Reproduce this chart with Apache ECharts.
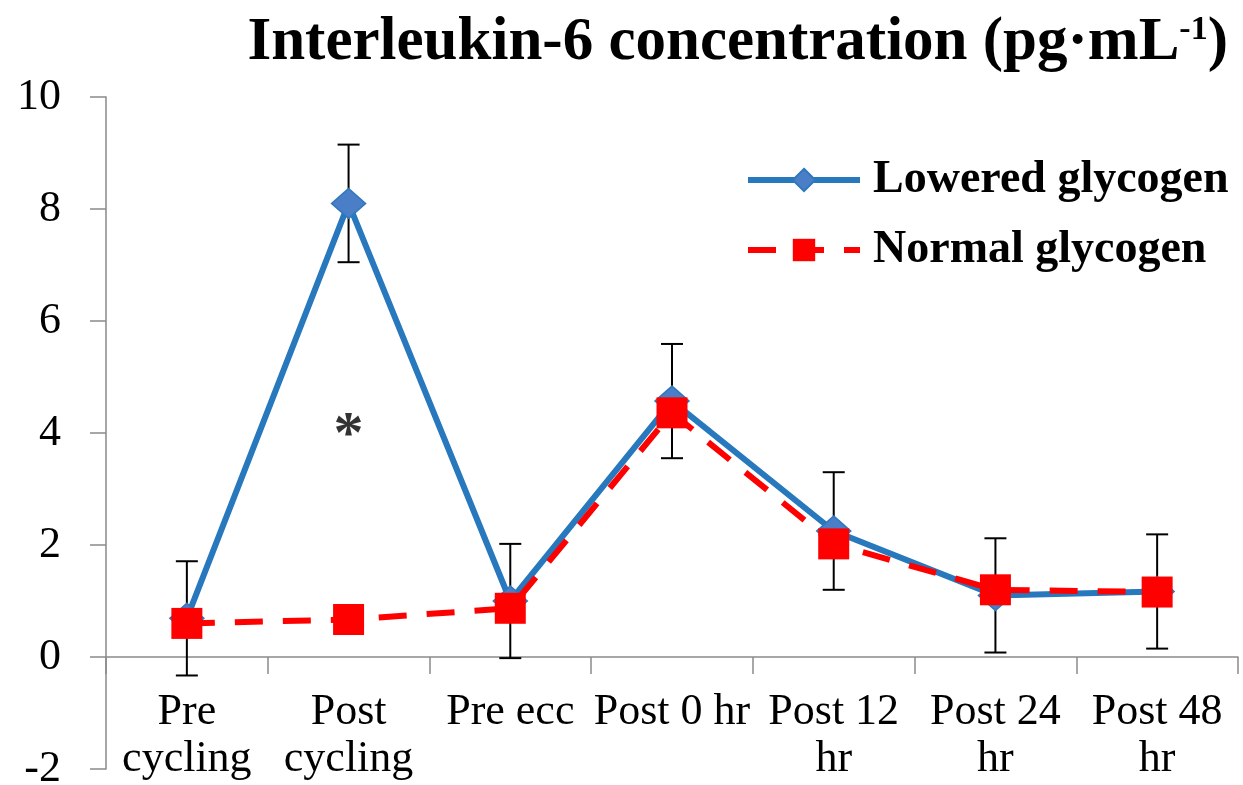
<!DOCTYPE html>
<html>
<head>
<meta charset="utf-8">
<script src="https://cdn.jsdelivr.net/npm/echarts@6/dist/echarts.min.js"></script>
<style>
  html, body { margin: 0; padding: 0; background: #ffffff; }
  #chart { width: 1243px; height: 785px; }
</style>
</head>
<body>
<div id="chart"></div>
<script>
const categories = ['Pre\ncycling', 'Post\ncycling', 'Pre ecc', 'Post 0 hr', 'Post 12\nhr', 'Post 24\nhr', 'Post 48\nhr'];
const loweredGlycogen = [0.69, 8.1, 1.0, 4.57, 2.25, 1.1, 1.17];
const loweredError = [1.02, 1.05, 1.02, 1.02, 1.05, 1.02, 1.02];
const normalGlycogen = [0.6, 0.67, 0.87, 4.36, 2.02, 1.2, 1.16];
const significance = [{ index: 1, value: 4.15, mark: '*' }];
const yTicks = { min: -2, max: 10, interval: 2 };

const FONT = 'Liberation Serif';
const chart = echarts.init(document.getElementById('chart'), null, { renderer: 'canvas' });

const errorData = loweredGlycogen.map((v, i) => [i, v - loweredError[i], v + loweredError[i]]);

chart.setOption({
  backgroundColor: '#ffffff',
  animation: false,
  title: {
    text: '{a|Interleukin-6 concentration (pg·mL}{s|-1}{a|)}',
    right: 10,
    top: 8,
    textStyle: {
      rich: {
        a: { fontFamily: FONT, fontWeight: 'bold', fontSize: 61, color: '#000' },
        s: { fontFamily: FONT, fontWeight: 'bold', fontSize: 34, color: '#000', verticalAlign: 'top', padding: [0, 0, 0, 0] }
      }
    }
  },
  legend: {
    orient: 'vertical',
    left: 740,
    top: 152,
    itemWidth: 112,
    itemHeight: 28,
    itemGap: 24,
    data: ['Lowered glycogen', 'Normal glycogen'],
    lineStyle: { width: 6 },
    textStyle: { fontFamily: FONT, fontWeight: 'bold', fontSize: 46, color: '#000', padding: [0, 0, 0, 8] }
  },
  grid: { left: 106, right: 5, top: 97, bottom: 16, containLabel: false, outerBoundsMode: 'none' },
  xAxis: {
    type: 'category',
    data: categories,
    boundaryGap: true,
    axisLine: { onZero: true, lineStyle: { color: '#8a8a8a', width: 1.5 } },
    axisTick: { show: true, inside: false, length: 17, lineStyle: { color: '#8a8a8a', width: 1.5 } },
    axisLabel: { fontFamily: FONT, fontSize: 44, color: '#000', margin: -80, lineHeight: 47, interval: 0 },
    splitLine: { show: false }
  },
  yAxis: {
    type: 'value',
    min: yTicks.min,
    max: yTicks.max,
    interval: yTicks.interval,
    axisLine: { show: true, lineStyle: { color: '#8a8a8a', width: 1.5 } },
    axisTick: { show: true, inside: false, length: 16, lineStyle: { color: '#8a8a8a', width: 1.5 } },
    axisLabel: { fontFamily: FONT, fontSize: 44, color: '#000', margin: 45 },
    splitLine: { show: false }
  },
  series: [
    {
      type: 'custom',
      name: 'errors',
      z: 1,
      silent: true,
      data: errorData,
      encode: { x: 0, y: [1, 2] },
      renderItem: function (params, api) {
        const i = api.value(0);
        const lo = api.coord([i, api.value(1)]);
        const hi = api.coord([i, api.value(2)]);
        const hw = 11;
        const style = { stroke: '#000', lineWidth: 2 };
        return {
          type: 'group',
          children: [
            { type: 'line', shape: { x1: lo[0], y1: lo[1], x2: hi[0], y2: hi[1] }, style: style },
            { type: 'line', shape: { x1: lo[0] - hw, y1: lo[1], x2: lo[0] + hw, y2: lo[1] }, style: style },
            { type: 'line', shape: { x1: hi[0] - hw, y1: hi[1], x2: hi[0] + hw, y2: hi[1] }, style: style }
          ]
        };
      }
    },
    {
      type: 'line',
      name: 'Lowered glycogen',
      z: 2,
      data: loweredGlycogen,
      symbol: 'diamond',
      symbolSize: [34, 30],
      lineStyle: { color: '#2878BE', width: 6 },
      itemStyle: { color: '#4A7EC6', borderColor: '#2E78BE', borderWidth: 1.5 }
    },
    {
      type: 'line',
      name: 'Normal glycogen',
      z: 3,
      data: normalGlycogen,
      symbol: 'rect',
      symbolSize: 31,
      lineStyle: { color: '#FF0000', width: 6, type: [28, 20] },
      itemStyle: { color: '#FF0000' }
    },
    {
      type: 'scatter',
      name: 'sig',
      z: 4,
      silent: true,
      symbolSize: 0,
      data: significance.map(s => ({ value: [s.index, s.value], mark: s.mark })),
      label: {
        show: true,
        position: 'inside',
        formatter: function (p) { return p.data.mark; },
        fontFamily: FONT,
        fontWeight: 'bold',
        fontSize: 60,
        color: '#000',
        offset: [0, 12]
      }
    }
  ]
});
</script>
</body>
</html>
